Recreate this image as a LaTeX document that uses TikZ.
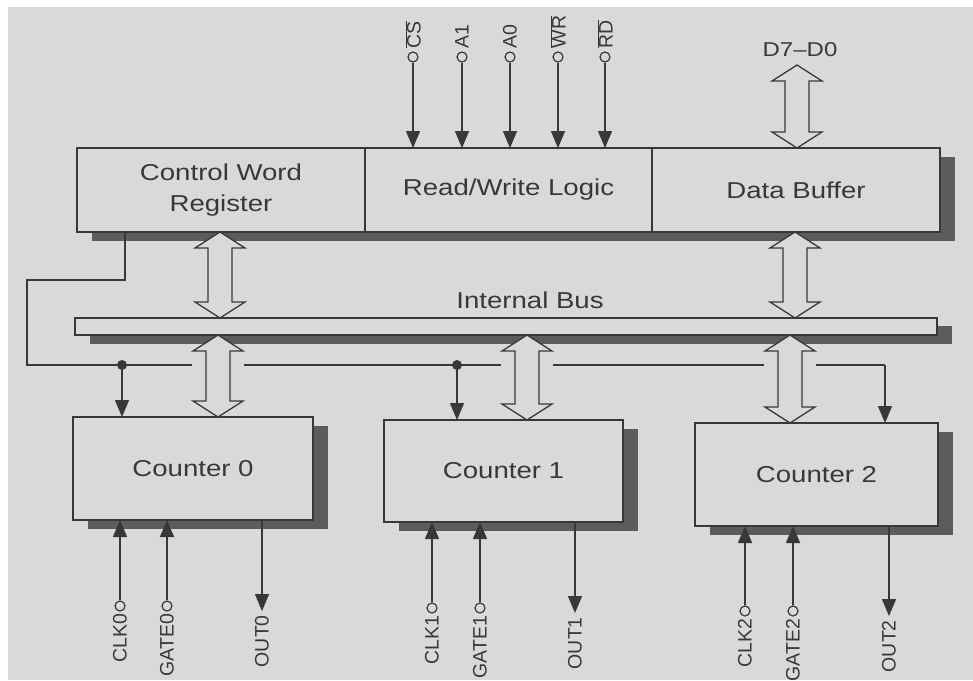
\documentclass[tikz,border=0pt]{standalone}
\usepackage{fontspec}
\setmainfont{Liberation Sans}[FakeStretch=1.2]
\newfontfamily\pinfont{Liberation Sans}
\usetikzlibrary{arrows.meta,shadows,calc}
\definecolor{bg}{HTML}{D9DAD8}
\definecolor{ink}{HTML}{383838}
\definecolor{shd}{HTML}{5C5C5C}
\newcommand\dbarrow[2]{\path[dblarrow] let \p1=#1, \p2=#2 in
  (\x1,\y1) -- (\x1+25pt,\y1-16pt) -- (\x1+12pt,\y1-16pt) -- (\x1+12pt,\y2+16pt) -- (\x1+25pt,\y2+16pt)
  -- (\x1,\y2) -- (\x1-25pt,\y2+16pt) -- (\x1-12pt,\y2+16pt) -- (\x1-12pt,\y1-16pt) -- (\x1-25pt,\y1-16pt) -- cycle;}
\begin{document}
\begin{tikzpicture}[x=1pt,y=-1pt,
  box/.style={draw=ink, line width=1.5pt, fill=bg, text=ink, outer sep=0pt, inner sep=0pt,
    font=\fontsize{23}{31}\selectfont, align=center, anchor=north west,
    drop shadow={shadow xshift=15pt, shadow yshift=-9pt, fill=shd, opacity=1}},
  lbl/.style={text=ink, font=\fontsize{23}{31}\selectfont, inner sep=0pt},
  plbl/.style={text=ink, font=\pinfont\fontsize{19.5}{22}\selectfont, inner sep=0pt, rotate=90},
  pinc/.style={circle, draw=ink, fill=bg, line width=1.2pt, minimum size=10pt, inner sep=0pt},
  sig/.style={draw=ink, line width=1.4pt, -{Triangle[width=14pt,length=17pt]}},
  wire/.style={draw=ink, line width=1.4pt},
  dblarrow/.style={draw=ink, fill=bg, line width=1.3pt, line join=miter},
  gap/.style={fill=bg}]
% background
\fill[white] (0,0) rectangle (973,680);
\fill[bg] (8,7) rectangle (973,680);
\useasboundingbox (0,0) rectangle (973,680);

% top block
\node[box, minimum width=288pt, minimum height=84pt] (cwr) at (77,148) {Control Word\\Register};
\node[box, minimum width=287pt, minimum height=84pt] (rwl) at (cwr.north east) {Read/Write Logic};
\node[box, minimum width=288pt, minimum height=84pt] (db) at (rwl.north east) {Data Buffer};

% internal bus
\node[box, minimum width=862pt, minimum height=17pt,
  drop shadow={shadow xshift=15pt, shadow yshift=-8pt, fill=shd, opacity=1}] (bus) at (75,318) {};
\node[lbl] (buslbl) at (530,300) {Internal Bus};

% counters
\node[box, minimum width=240pt, minimum height=103pt] (c0) at (73,417) {Counter 0};
\node[box, minimum width=239pt, minimum height=102pt] (c1) at (384,420) {Counter 1};
\node[box, minimum width=243pt, minimum height=103pt] (c2) at (695,423) {Counter 2};

% control wire from the control word register
\coordinate (cw) at (125,0);
\coordinate (jl) at (27,280);
\coordinate (j0) at (122,365);
\coordinate (j1) at (457,365);
\coordinate (j2) at (885,365);
\draw[wire] (cwr.south -| cw) |- (jl) |- (j2);
\draw[sig] (j2) -- (j2 |- c2.north);
\draw[sig] (j0) -- (j0 |- c0.north);
\draw[sig] (j1) -- (j1 |- c1.north);
\fill[ink] (j0) circle (5);
\fill[ink] (j1) circle (5);
% gaps where the bus arrows cross the wire
\fill[gap] (192,359) rectangle (244,371);
\fill[gap] (501,359) rectangle (553,371);
\fill[gap] (764,359) rectangle (816,371);

% bus arrows
\coordinate (a1) at (220,0);
\coordinate (a2) at (218,0);
\coordinate (a3) at (527,0);
\coordinate (a4) at (795,0);
\coordinate (a5) at (790,0);
\dbarrow{(cwr.south -| a1)}{(bus.north -| a1)}
\dbarrow{(bus.south -| a2)}{(c0.north -| a2)}
\dbarrow{(bus.south -| a3)}{(c1.north -| a3)}
\dbarrow{(db.south -| a4)}{(bus.north -| a4)}
\dbarrow{(bus.south -| a5)}{(c2.north -| a5)}

% data bus D7-D0
\node[text=ink, font=\fontsize{20}{24}\selectfont, inner sep=0pt] (dlbl) at (800,50) {D7--D0};
\coordinate (dtop) at (797,65);
\dbarrow{(dtop)}{(db.north -| dtop)}

% top inputs
\foreach \n/\x/\t in {cs/413/{$\overline{\mbox{CS}}$}, aone/462/A1, azero/510/A0, wr/558/{$\overline{\mbox{WR}}$}, rd/605/{$\overline{\mbox{RD}}$}}{
  \node[pinc] (\n) at (\x,57) {};
  \draw[sig] (\n) -- (\n |- rwl.north);
  \node[plbl, anchor=west] at ([yshift=3pt]\n.north) {\t};
}

% counter inputs and outputs
\foreach \k/\c/\g/\o/\yc in {0/120/167/262/606, 1/432/480/575/608, 2/745/793/889/611}{
  \node[pinc] (clk\k) at (\c,\yc) {};
  \node[pinc] (gate\k) at (\g,\yc) {};
  \coordinate (out\k) at (\o,\yc+5);
}
\foreach \k/\cn in {0/c0, 1/c1, 2/c2}{
  \draw[sig] (clk\k) -- (clk\k |- \cn.south);
  \draw[sig] (gate\k) -- (gate\k |- \cn.south);
  \draw[sig] (out\k |- \cn.south) -- (out\k);
  \node[plbl, anchor=east] at ([yshift=-2pt]clk\k.south) {CLK\k};
  \node[plbl, anchor=east] at ([yshift=-2pt]gate\k.south) {GATE\k};
  \node[plbl, anchor=east] at ([yshift=-4pt]out\k) {OUT\k};
}
\end{tikzpicture}
\end{document}
